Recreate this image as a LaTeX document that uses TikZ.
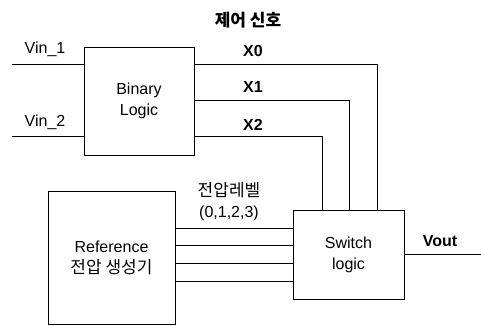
\documentclass[tikz,border=0pt]{standalone}
\usepackage{fontspec}
\setmainfont{Liberation Sans}
\newfontfamily\kr{Noto Sans CJK KR}
\begin{document}
\begin{tikzpicture}[x=1pt,y=-1pt,
  blk/.style={draw,line width=0.8pt,inner sep=0pt,align=center,font=\fontsize{16}{21}\selectfont},
  wire/.style={line width=0.8pt},
  lbl/.style={inner sep=0pt,font=\fontsize{16}{20}\selectfont},
  blbl/.style={lbl,font=\fontsize{16}{20}\selectfont\bfseries}]
\useasboundingbox (0,0) rectangle (481,325);
\node[blk,minimum width=110pt,minimum height=108pt] (bl) at (139,101) {Binary\\Logic};
\node[blk,minimum width=111pt,minimum height=89pt] (sw) at (348.5,254.5) {Switch\\logic};
\node[blk,minimum width=127pt,minimum height=133pt] (ref) at (111.5,257.5) {Reference\\{\kr\fontsize{17}{21}\selectfont 전압 생성기}};
% inputs
\coordinate (in1) at (12,64);
\coordinate (in2) at (12,136);
\draw[wire] (in1) -- (in1 -| bl.west);
\draw[wire] (in2) -- (in2 -| bl.west);
\node[lbl] (vin1) at (45,49) {Vin\_1};
\node[lbl] (vin2) at (45,122) {Vin\_2};
% control lines
\coordinate (c0) at (377,64);
\coordinate (c1) at (349,100);
\coordinate (c2) at (322,136);
\draw[wire] (c0 -| bl.east) -- (c0) -- (c0 |- sw.north);
\draw[wire] (c1 -| bl.east) -- (c1) -- (c1 |- sw.north);
\draw[wire] (c2 -| bl.east) -- (c2) -- (c2 |- sw.north);
\node[blbl] (x0) at (253,51) {X0};
\node[blbl] (x1) at (253,87) {X1};
\node[blbl] (x2) at (253,125) {X2};
\node[lbl] (ctl) at (248,20) {\kr\bfseries\fontsize{17}{20}\selectfont 제어 신호};
% reference levels
\foreach \yy/\n in {228/a,245/b,263/c,281/d}{
  \coordinate (r\n) at (175,\yy);
  \draw[wire] (r\n) -- (r\n -| sw.west);
}
\node[lbl] (lv) at (229,190) {\kr\fontsize{17}{20}\selectfont 전압레벨};
\node[lbl] (lvn) at (229,213) {(0,1,2,3)};
% output
\coordinate (out) at (481,254);
\draw[wire] (out -| sw.east) -- (out);
\node[blbl] (vout) at (440,241) {Vout};
\end{tikzpicture}
\end{document}
